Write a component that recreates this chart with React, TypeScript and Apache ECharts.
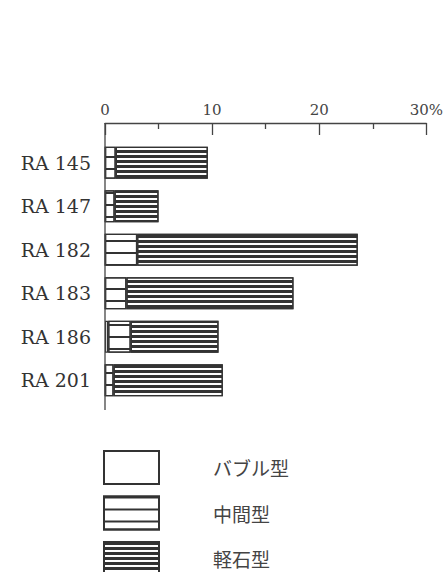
import React, { useEffect, useRef } from "react";
import * as echarts from "echarts";

const categories = ["RA 145", "RA 147", "RA 182", "RA 183", "RA 186", "RA 201"];
const bubbleType = [0, 0, 0, 0, 0.3, 0];
const middleType = [1.0, 0.9, 3.0, 2.0, 2.1, 0.8];
const pumiceType = [8.6, 4.1, 20.6, 15.6, 8.2, 10.2];
const seriesNames = ["バブル型", "中間型", "軽石型"];
const xTicks = [0, 10, 20, 30];

export default function App() {
  const ref = useRef<HTMLDivElement>(null);
  useEffect(() => {
    if (!ref.current) return;
    const chart = echarts.init(ref.current, null, { renderer: "svg" });
    const border = { borderColor: "#333", borderWidth: 1.2 };
    chart.setOption({
      animation: false,
      backgroundColor: "#fff",
      grid: { left: 105, top: 141, width: 322, height: 261 },
      legend: {
        orient: "vertical",
        left: 103,
        top: 450,
        height: 140,
        padding: 0,
        icon: "rect",
        itemWidth: 55,
        itemHeight: 33,
        itemGap: 10.5,
        selectedMode: false,
        data: seriesNames,
        textStyle: {
          fontFamily: "Noto Sans CJK JP",
          fontSize: 19,
          color: "#444",
          padding: [0, 0, 0, 49],
        },
      },
      xAxis: {
        type: "value",
        position: "top",
        offset: 18,
        min: xTicks[0],
        max: xTicks[xTicks.length - 1],
        interval: 10,
        axisLine: { show: true, lineStyle: { color: "#444", width: 1.3 } },
        axisTick: { show: true, inside: true, length: 12, lineStyle: { color: "#444", width: 1.3 } },
        minorTick: { show: true, splitNumber: 2, length: 6, lineStyle: { color: "#444", width: 1.3 } },
        splitLine: { show: false },
        axisLabel: {
          margin: 6,
          fontFamily: "DejaVu Serif",
          fontSize: 15,
          color: "#444",
          formatter: (v: number) => (v === 30 ? "30%" : String(v)),
        },
      },
      yAxis: {
        type: "category",
        inverse: true,
        data: categories,
        axisLine: { show: false },
        axisTick: { show: false },
        axisLabel: {
          margin: 14,
          fontFamily: "DejaVu Serif",
          fontSize: 19,
          color: "#333",
        },
      },
      series: [
        {
          name: seriesNames[0],
          type: "bar",
          stack: "t",
          barWidth: 32,
          data: bubbleType,
          itemStyle: { color: "#fff", ...border },
        },
        {
          name: seriesNames[1],
          type: "bar",
          stack: "t",
          barWidth: 32,
          data: middleType,
          itemStyle: {
            color: "#fff",
            ...border,
            decal: {
              symbol: "rect",
              symbolSize: 1,
              dashArrayX: [1, 0],
              dashArrayY: [1.2, 9.8],
              rotation: 0,
              color: "#333",
            },
          },
        },
        {
          name: seriesNames[2],
          type: "bar",
          stack: "t",
          barWidth: 32,
          data: pumiceType,
          itemStyle: {
            color: "#fff",
            ...border,
            decal: {
              symbol: "rect",
              symbolSize: 1,
              dashArrayX: [1, 0],
              dashArrayY: [2.2, 1.4],
              rotation: 0,
              color: "#333",
            },
          },
        },
      ],
    });
    const x0 = chart.convertToPixel({ xAxisIndex: 0 }, 0) as number;
    chart.setOption({
      graphic: [
        {
          type: "line",
          shape: { x1: x0, y1: 123, x2: x0, y2: 410 },
          style: { stroke: "#444", lineWidth: 1.3 },
          z: 10,
        },
      ],
    });
    return () => chart.dispose();
  }, []);
  return (
    <div
      ref={ref}
      style={{ position: "fixed", left: 0, top: 0, width: 446, height: 572 }}
    />
  );
}
